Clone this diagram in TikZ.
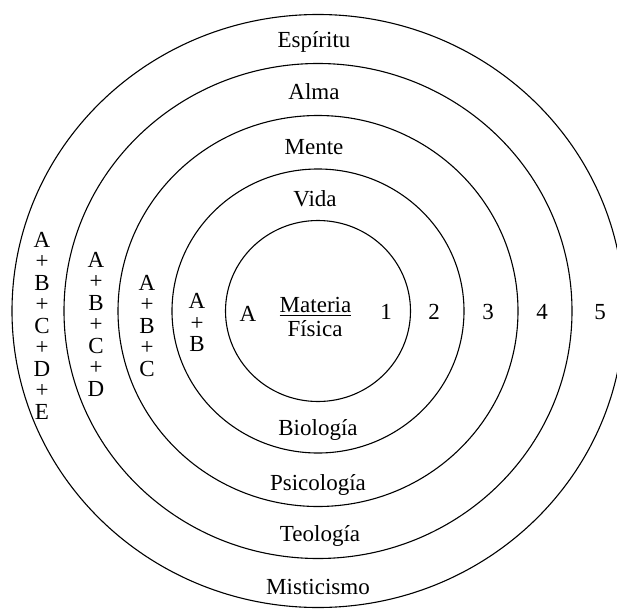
\documentclass[tikz,border=0pt]{standalone}
\usepackage{fontspec}
\setmainfont{Liberation Serif}
\begin{document}
\begin{tikzpicture}
[x=1pt,y=1pt,every node/.style={inner sep=0, font={\fontsize{23}{21.5}\selectfont}}]
\useasboundingbox (-318,-297) rectangle (299,311);
\clip (-318,-297) rectangle (299,311);
\foreach \rx/\ry in {92.5/90.5,146/142,200/195.5,254/247.5,306/296.5}
{
  \draw[line width=1.1pt] (0,0) ellipse [x radius=\rx pt, y radius=\ry pt];
}
% rings, top half
\node(espiritu) [anchor=base] at (-4,263.5) {Espíritu};
\node(alma) [anchor=base] at (-4,211.7) {Alma};
\node(mente) [anchor=base] at (-4,157) {Mente};
\node(vida) [anchor=base] at (-3,104.3) {Vida};
% rings, bottom half
\node(biologia) [anchor=base] at (0,-124.3) {Biología};
\node(psicologia) [anchor=base] at (0,-179) {Psicología};
\node(teologia) [anchor=base] at (2,-230.7) {Teología};
\node(misticismo) [anchor=base] at (0,-283.3) {Misticismo};
% centre
\node(materia) [anchor=base] at (-2.5,-1) {Materia};
\node(fisica) [anchor=base] at (-3,-25) {Física};
\draw[line width=0.8pt] ([yshift=-3pt]materia.base west) -- ([yshift=-3pt]materia.base east);
\node(a) [anchor=base] at (-70,-10) {A};
% sums on the left
\node(ab) [anchor=north, align=center] at (-121,17.7) {A\\+\\B};
\node(abc) [anchor=north, align=center] at (-171,36) {A\\+\\B\\+\\C};
\node(abcd) [anchor=north, align=center] at (-222,59.3) {A\\+\\B\\+\\C\\+\\D};
\node(abcde) [anchor=north, align=center] at (-276,79.3) {A\\+\\B\\+\\C\\+\\D\\+\\E};
% numbers on the right
\foreach \s/\x in {1/68,2/116,3/170,4/224,5/282}
{
  \node(\s) [anchor=base] at (\x,-8) {\s};
}
\end{tikzpicture}
\end{document}
